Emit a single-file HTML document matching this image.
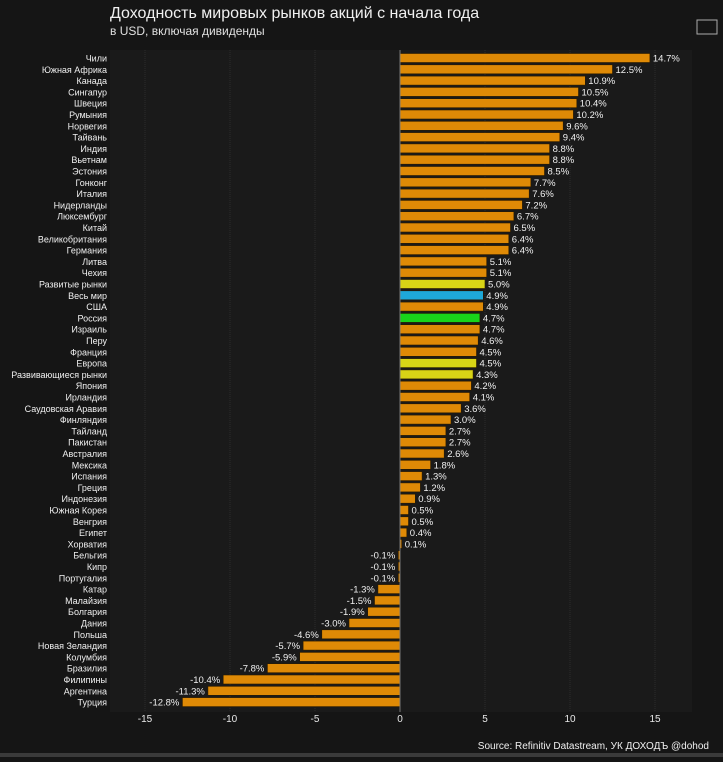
<!DOCTYPE html>
<html><head><meta charset="utf-8"><style>
body{margin:0;background:#151515;width:723px;height:757px;overflow:hidden;font-family:"Liberation Sans",sans-serif}
svg text{font-family:"Liberation Sans",sans-serif}
</style></head><body>
<svg id="c" width="723" height="757">
<rect x="0" y="0" width="723" height="757" fill="#151515"/>
<rect x="110" y="50" width="582" height="662" fill="#1a1a1a"/>
<rect x="0" y="753" width="723" height="4" fill="#3a3a3a"/>
<text x="110" y="18" font-size="16" fill="#f0f0f0">Доходность мировых рынков акций с начала года</text>
<text x="110" y="35" font-size="12" fill="#e0e0e0">в USD, включая дивиденды</text>
<rect x="697" y="20" width="20" height="14" fill="none" stroke="#aaa" stroke-width="1"/>
<text x="709" y="749" font-size="10" fill="#f0f0f0" text-anchor="end">Source: Refinitiv Datastream, УК ДОХОДЪ @dohod</text>
<g id="grid"></g><g id="bars"></g><g id="ticks"></g>
</svg>
<script>
const categories=["Чили","Южная Африка","Канада","Сингапур","Швеция","Румыния","Норвегия","Тайвань","Индия","Вьетнам","Эстония","Гонконг","Италия","Нидерланды","Люксембург","Китай","Великобритания","Германия","Литва","Чехия","Развитые рынки","Весь мир","США","Россия","Израиль","Перу","Франция","Европа","Развивающиеся рынки","Япония","Ирландия","Саудовская Аравия","Финляндия","Тайланд","Пакистан","Австралия","Мексика","Испания","Греция","Индонезия","Южная Корея","Венгрия","Египет","Хорватия","Бельгия","Кипр","Португалия","Катар","Малайзия","Болгария","Дания","Польша","Новая Зеландия","Колумбия","Бразилия","Филипины","Аргентина","Турция"];
const values=[14.7,12.5,10.9,10.5,10.4,10.2,9.6,9.4,8.8,8.8,8.5,7.7,7.6,7.2,6.7,6.5,6.4,6.4,5.1,5.1,5.0,4.9,4.9,4.7,4.7,4.6,4.5,4.5,4.3,4.2,4.1,3.6,3.0,2.7,2.7,2.6,1.8,1.3,1.2,0.9,0.5,0.5,0.4,0.1,-0.1,-0.1,-0.1,-1.3,-1.5,-1.9,-3.0,-4.6,-5.7,-5.9,-7.8,-10.4,-11.3,-12.8];
const highlights={"Развитые рынки":"#d8d416","Весь мир":"#1ea8d8","Россия":"#18d41a","Европа":"#d8d416","Развивающиеся рынки":"#d8d416"};
const ticks=[-15,-10,-5,0,5,10,15];
const NS="http://www.w3.org/2000/svg";
const x=v=>400+v*17;
const y=i=>58+i*11.3;
function mk(t,a,p){const e=document.createElementNS(NS,t);for(const k in a)e.setAttribute(k,a[k]);p.appendChild(e);return e;}
const G=document.getElementById('grid'),B=document.getElementById('bars'),T=document.getElementById('ticks');
ticks.forEach(t=>{
 if(t!==0){const l=mk('line',{x1:x(t),x2:x(t),y1:50,y2:712,stroke:'#2c2c2c','stroke-width':1,'stroke-dasharray':'1,1'},G);
 
 }
 const tx=mk('text',{x:x(t),y:722,'font-size':10,fill:'#e8e8e8','text-anchor':'middle'},T);tx.textContent=t;
 
 
});
categories.forEach((c,i)=>{
 const v=values[i],cy=y(i);
 const lb=mk('text',{x:107,y:cy+3.5,'font-size':9,fill:'#f0f0f0','text-anchor':'end'},B);lb.textContent=c;
 
 
 const x0=Math.min(x(0),x(v)),w=Math.max(Math.abs(x(v)-x(0)),0.8);
 const r=mk('rect',{x:x0,y:cy-4.5,width:w,height:9,fill:highlights[c]||'#df8a06',stroke:'#2a1a00','stroke-width':0.6},B);
 
 
 const vl=mk('text',{x:v>=0?x(v)+3:x(v)-3,y:cy+3.5,'font-size':9.5,fill:'#f0f0f0','text-anchor':v>=0?'start':'end'},B);vl.textContent=v.toFixed(1)+'%';
 
 
});
const z=mk('line',{x1:400,x2:400,y1:50,y2:712,stroke:'#777','stroke-width':1},T);


</script>
</body></html>
